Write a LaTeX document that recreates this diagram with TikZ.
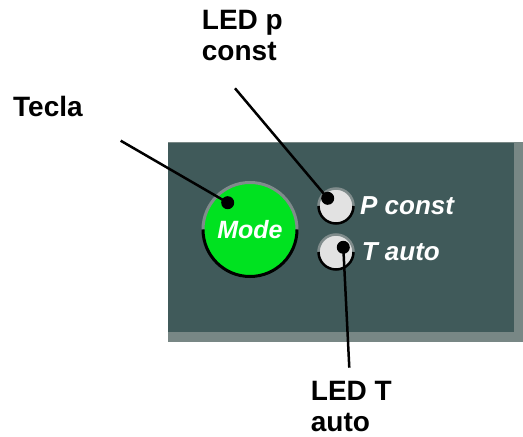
\documentclass[tikz,border=0pt]{standalone}
\usepackage{fontspec}
\setmainfont{Liberation Sans}
\definecolor{paneldark}{RGB}{64,90,90}
\definecolor{panelrim}{RGB}{120,135,133}
\definecolor{keygreen}{RGB}{0,226,32}
\definecolor{ledgray}{RGB}{226,226,226}
\definecolor{rimgray}{RGB}{128,140,140}

\begin{document}
\begin{tikzpicture}[x=1pt, y=1pt,
    callout/.style={font=\fontsize{28}{31}\selectfont\bfseries, align=left, anchor=base west, inner sep=0},
    panellabel/.style={font=\fontsize{26}{30}\selectfont\bfseries\itshape, text=white, anchor=base west, inner sep=0},
    knob/.style={circle, fill=#1, inner sep=0, outer sep=0},
    pin/.style={circle, fill=black, minimum size=13, inner sep=0},
    lead/.style={line width=2.5},
  ]
    \useasboundingbox (0,0) rectangle (523,437);
    % panel with its lighter edge
    \fill[panelrim] (168,95) rectangle (523,294.5);
    \fill[paneldark] (168,105) rectangle (514,294.5);
    \draw[panelrim, line width=1] (168,294) -- (514,294);
    % mode key
    \node[knob=keygreen, minimum size=94, text=white, font=\fontsize{25}{30}\selectfont\bfseries\itshape] (key) at (250,207.5) {Mode};
    \draw[rimgray, line width=3] ([xshift=-47]key.center) arc[start angle=180, end angle=0, radius=47];
    \draw[black, line width=3] ([xshift=-47]key.center) arc[start angle=180, end angle=360, radius=47];
    % leds
    \foreach \led/\ypos in {pled/231, tled/185} {
      \node[knob=ledgray, minimum size=35] (\led) at (336,\ypos) {};
      \draw[rimgray, line width=2.5] ([xshift=-17.5]\led.center) arc[start angle=180, end angle=0, radius=17.5];
      \draw[black, line width=2.5] ([xshift=-17.5]\led.center) arc[start angle=180, end angle=360, radius=17.5];
    }
    \node[panellabel] (ptext) at (360,222) {P const};
    \node[panellabel] (ttext) at (361.7,176.3) {T auto};
    % pins and leads
    \node[pin] (keypin) at (227.7,234.3) {};
    \node[pin] (ppin) at (327.7,238.7) {};
    \node[pin] (tpin) at (343.3,189.7) {};
    \coordinate (keytail) at (120.7,296.3);
    \coordinate (ptail) at (235,348.7);
    \coordinate (ttail) at (349.3,69.3);
    \draw[lead] (keytail) -- (keypin.center);
    \draw[lead] (ptail) -- (ppin.center);
    \draw[lead] (ttail) -- (tpin.center);
    % callouts
    \node[callout] (keylabel) at (13,320.3) {Tecla};
    \node[callout] (plabel) at (201.7,376) {LED p\\const};
    \node[callout] (tlabel) at (310.7,5.3) {LED T\\auto};
\end{tikzpicture}
\end{document}
